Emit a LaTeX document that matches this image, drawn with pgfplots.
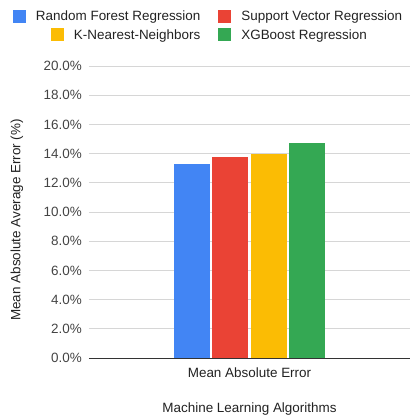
\documentclass[border=0pt]{standalone}
\usepackage{fontspec}
\setmainfont{Liberation Sans}
\usepackage{pgfplots}
\pgfplotsset{compat=1.18}

\definecolor{cblue}{HTML}{4285F4}
\definecolor{cred}{HTML}{EA4335}
\definecolor{cyellow}{HTML}{FBBC04}
\definecolor{cgreen}{HTML}{34A853}
\definecolor{txt}{HTML}{222222}
\definecolor{tick}{HTML}{444444}

\pgfplotsset{
  sqlegend/.style={
    legend image code/.code={\fill[##1] (0bp,-6.5bp) rectangle (13bp,6.5bp);},
    legend columns=2,
    legend cell align=left,
    legend style={draw=none, fill=none, inner sep=0pt, outer sep=0pt,
      anchor=west, text=txt, font=\fontsize{13.5}{16}\selectfont,
      nodes={inner sep=0pt},
      /tikz/every odd column/.append style={column sep=10bp},
      /tikz/every even column/.append style={column sep=18bp}},
  },
}

\begin{document}
\begin{tikzpicture}[font=\fontsize{13.5}{16}\selectfont]
\useasboundingbox (-89bp,-58bp) rectangle (322bp,358bp);
\begin{axis}[
  at={(0,0)}, anchor=south west,
  scale only axis, width=321bp, height=292bp,
  ybar=2.3bp, bar width=36bp,
  xmin=-1, xmax=1, ymin=0, ymax=20,
  xtick={0}, xticklabels={Mean Absolute Error},
  ytick={0,2,...,20},
  yticklabel={\pgfmathprintnumber[fixed,fixed zerofill,precision=1]{\tick}\%},
  /pgf/number format/assume math mode=true,
  major tick length=0pt,
  axis x line=bottom, axis y line=left,
  x axis line style={-, draw=black!80, line width=1bp},
  y axis line style={draw=none},
  ymajorgrids, major grid style={draw=black!16, line width=0.9bp},
  yticklabel style={anchor=east, inner sep=0pt, xshift=-7bp, text=tick},
  xticklabel style={anchor=north, inner sep=0pt, yshift=-10bp, text=txt},
  xlabel={Machine Learning Algorithms},
  xlabel style={at={(rel axis cs:0.5,0)}, anchor=north, inner sep=0pt, yshift=-45bp, text=txt},
  ylabel={Mean Absolute Average Error (\%)},
  ylabel style={at={(rel axis cs:-0.2243,0.4726)}, anchor=center, inner sep=0pt, text=txt},
  sqlegend,
  legend style={at={(rel axis cs:-0.2368,1.1712)}},
]
\addplot[fill=cblue, draw=none] coordinates {(0,13.3)};
\addplot[fill=cred, draw=none] coordinates {(0,13.8)};
\addplot[fill=cyellow, draw=none] coordinates {(0,14.0)};
\addplot[fill=cgreen, draw=none] coordinates {(0,14.7)};
\legend{Random Forest Regression, Support Vector Regression}
\end{axis}
\begin{axis}[
  at={(0,0)}, anchor=south west,
  scale only axis, width=321bp, height=292bp,
  hide axis, xmin=0, xmax=1, ymin=0, ymax=1,
  sqlegend,
  legend style={at={(rel axis cs:-0.1184,1.1062)}},
]
\addlegendimage{fill=cyellow, draw=none}
\addlegendimage{fill=cgreen, draw=none}
\legend{K-Nearest-Neighbors, XGBoost Regression}
\end{axis}
\end{tikzpicture}
\end{document}
